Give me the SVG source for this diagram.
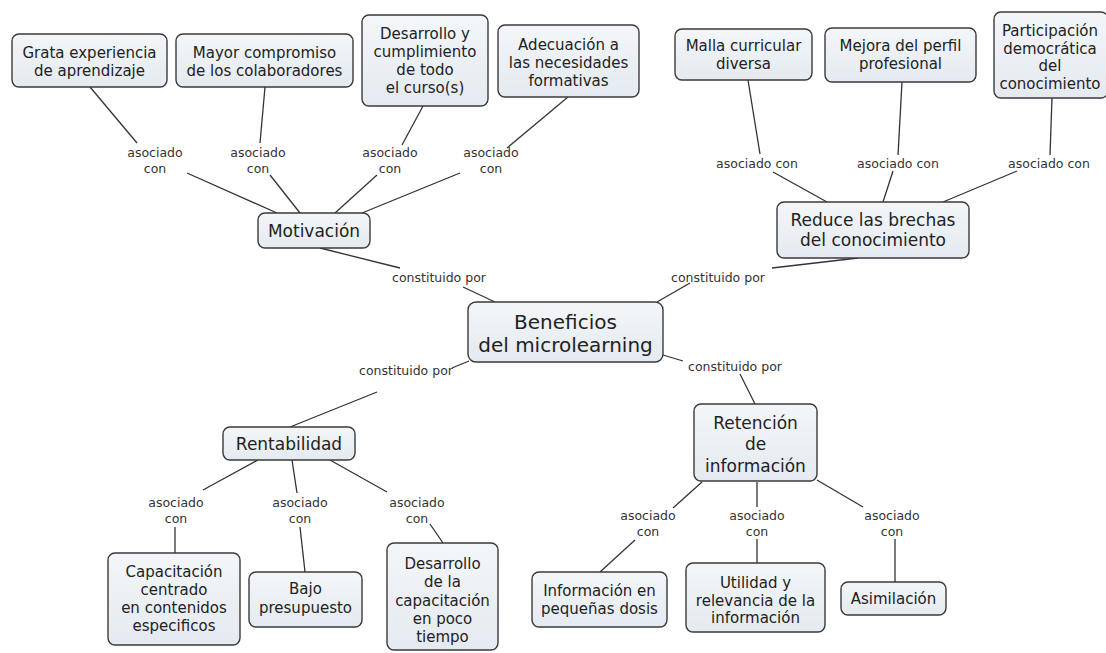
<svg xmlns="http://www.w3.org/2000/svg" width="1106" height="653" viewBox="0 0 1106 653">
<defs>
<linearGradient id="nodeFill" x1="0" y1="0" x2="0" y2="1">
<stop offset="0" stop-color="#f3f6f9"/>
<stop offset="1" stop-color="#e4eaf0"/>
</linearGradient>
</defs>
<style>
.box{fill:url(#nodeFill);stroke:#3a3a3a;stroke-width:1.4}
.t{font-family:"DejaVu Sans",Verdana,sans-serif;fill:#222;text-anchor:middle}
.leaf{font-size:15px}
.mid{font-size:17px}
.root{font-size:20px}
.lbl{font-family:"DejaVu Sans",Verdana,sans-serif;font-size:12.5px;fill:#333;text-anchor:middle}
.c{stroke:#333;stroke-width:1.3;fill:none}
</style>
<rect width="1106" height="653" fill="#ffffff"/>

<g id="connectors">
<line class="c" x1="90" y1="87" x2="137" y2="143"/>
<line class="c" x1="187" y1="173" x2="277" y2="213"/>
<line class="c" x1="265" y1="87" x2="260" y2="143"/>
<line class="c" x1="270" y1="175" x2="300" y2="213"/>
<line class="c" x1="423" y1="106" x2="402" y2="145"/>
<line class="c" x1="377" y1="175" x2="335" y2="213"/>
<line class="c" x1="568" y1="97" x2="507" y2="148"/>
<line class="c" x1="460" y1="173" x2="362" y2="213"/>
<line class="c" x1="748" y1="80" x2="760" y2="154"/>
<line class="c" x1="773" y1="172" x2="827" y2="202"/>
<line class="c" x1="902" y1="82" x2="898" y2="155"/>
<line class="c" x1="893" y1="171" x2="883" y2="202"/>
<line class="c" x1="1052" y1="98" x2="1050" y2="155"/>
<line class="c" x1="1017" y1="171" x2="943" y2="202"/>
<line class="c" x1="320" y1="248" x2="400" y2="268"/>
<line class="c" x1="463" y1="287" x2="495" y2="302"/>
<line class="c" x1="858" y1="258" x2="772" y2="268"/>
<line class="c" x1="690" y1="283" x2="657" y2="302"/>
<line class="c" x1="469" y1="361" x2="452" y2="368"/>
<line class="c" x1="377" y1="392" x2="290" y2="427"/>
<line class="c" x1="663" y1="355" x2="683" y2="361"/>
<line class="c" x1="740" y1="374" x2="755" y2="404"/>
<line class="c" x1="258" y1="460" x2="203" y2="490"/>
<line class="c" x1="175" y1="527" x2="175" y2="553"/>
<line class="c" x1="292" y1="460" x2="297" y2="493"/>
<line class="c" x1="300" y1="527" x2="305" y2="572"/>
<line class="c" x1="330" y1="460" x2="387" y2="492"/>
<line class="c" x1="430" y1="524" x2="443" y2="543"/>
<line class="c" x1="702" y1="482" x2="673" y2="508"/>
<line class="c" x1="635" y1="540" x2="600" y2="572"/>
<line class="c" x1="757" y1="482" x2="757" y2="507"/>
<line class="c" x1="757" y1="539" x2="757" y2="563"/>
<line class="c" x1="817" y1="480" x2="863" y2="507"/>
<line class="c" x1="895" y1="539" x2="895" y2="582"/>

<text class="lbl" x="155" y="156.5">asociado</text><text class="lbl" x="155" y="172.5">con</text>
<text class="lbl" x="258" y="156.5">asociado</text><text class="lbl" x="258" y="172.5">con</text>
<text class="lbl" x="390" y="156.5">asociado</text><text class="lbl" x="390" y="172.5">con</text>
<text class="lbl" x="491" y="156.5">asociado</text><text class="lbl" x="491" y="172.5">con</text>
<text class="lbl" x="757" y="167.5">asociado con</text>
<text class="lbl" x="898" y="167.5">asociado con</text>
<text class="lbl" x="1049" y="167.5">asociado con</text>
<text class="lbl" x="439" y="281.5">constituido por</text>
<text class="lbl" x="718" y="281.5">constituido por</text>
<text class="lbl" x="406" y="374.5">constituido por</text>
<text class="lbl" x="735" y="370.5">constituido por</text>
<text class="lbl" x="176" y="506.5">asociado</text><text class="lbl" x="176" y="522.5">con</text>
<text class="lbl" x="300" y="506.5">asociado</text><text class="lbl" x="300" y="522.5">con</text>
<text class="lbl" x="417" y="506.5">asociado</text><text class="lbl" x="417" y="522.5">con</text>
<text class="lbl" x="648" y="519.5">asociado</text><text class="lbl" x="648" y="536">con</text>
<text class="lbl" x="757" y="519.5">asociado</text><text class="lbl" x="757" y="536">con</text>
<text class="lbl" x="892" y="519.5">asociado</text><text class="lbl" x="892" y="536">con</text>
</g>

<g id="grata">
<rect class="box" x="12" y="34" width="155" height="53" rx="7"/>
<text class="t leaf" x="89.5" y="57.5">Grata experiencia</text>
<text class="t leaf" x="89.5" y="75.5">de aprendizaje</text>
</g>
<g id="mayor">
<rect class="box" x="176" y="34" width="177" height="53" rx="7"/>
<text class="t leaf" x="264.5" y="57.5">Mayor compromiso</text>
<text class="t leaf" x="264.5" y="75.5">de los colaboradores</text>
</g>
<g id="desarrollo-curso">
<rect class="box" x="362" y="15" width="126" height="91" rx="7"/>
<text class="t leaf" x="425" y="38.8">Desarrollo y</text>
<text class="t leaf" x="425" y="56.8">cumplimiento</text>
<text class="t leaf" x="425" y="74.8">de todo</text>
<text class="t leaf" x="425" y="92.8">el curso(s)</text>
</g>
<g id="adecuacion">
<rect class="box" x="498" y="25" width="141" height="72" rx="7"/>
<text class="t leaf" x="568.5" y="49.8">Adecuación a</text>
<text class="t leaf" x="568.5" y="67.8">las necesidades</text>
<text class="t leaf" x="568.5" y="85.8">formativas</text>
</g>
<g id="malla">
<rect class="box" x="675" y="29" width="137" height="51" rx="7"/>
<text class="t leaf" x="743.5" y="50.8">Malla curricular</text>
<text class="t leaf" x="743.5" y="68.8">diversa</text>
</g>
<g id="mejora">
<rect class="box" x="825" y="28" width="151" height="54" rx="7"/>
<text class="t leaf" x="900.5" y="51.3">Mejora del perfil</text>
<text class="t leaf" x="900.5" y="69.3">profesional</text>
</g>
<g id="participacion">
<rect class="box" x="994" y="12" width="114" height="86" rx="7"/>
<text class="t leaf" x="1050" y="36.3">Participación</text>
<text class="t leaf" x="1050" y="53.8">democrática</text>
<text class="t leaf" x="1050" y="71.3">del</text>
<text class="t leaf" x="1050" y="88.8">conocimiento</text>
</g>
<g id="motivacion">
<rect class="box" x="258" y="213" width="112" height="35" rx="7"/>
<text class="t mid" x="314" y="236.5">Motivación</text>
</g>
<g id="reduce">
<rect class="box" x="777" y="202" width="192" height="56" rx="7"/>
<text class="t mid" x="873" y="226">Reduce las brechas</text>
<text class="t mid" x="873" y="246">del conocimiento</text>
</g>
<g id="beneficios">
<rect class="box" x="468" y="302" width="195" height="60" rx="8"/>
<text class="t root" x="565.5" y="329">Beneficios</text>
<text class="t root" x="565.5" y="352">del microlearning</text>
</g>
<g id="rentabilidad">
<rect class="box" x="223" y="427" width="132" height="33" rx="7"/>
<text class="t mid" x="289" y="449.5">Rentabilidad</text>
</g>
<g id="retencion">
<rect class="box" x="694" y="404" width="123" height="77" rx="7"/>
<text class="t mid" x="755.5" y="429">Retención</text>
<text class="t mid" x="755.5" y="450">de</text>
<text class="t mid" x="755.5" y="472">información</text>
</g>
<g id="capacitacion">
<rect class="box" x="108" y="553" width="132" height="92" rx="7"/>
<text class="t leaf" x="174" y="577">Capacitación</text>
<text class="t leaf" x="174" y="595">centrado</text>
<text class="t leaf" x="174" y="613">en contenidos</text>
<text class="t leaf" x="174" y="630.5">especificos</text>
</g>
<g id="bajo">
<rect class="box" x="249" y="572" width="113" height="55" rx="7"/>
<text class="t leaf" x="305.5" y="593.5">Bajo</text>
<text class="t leaf" x="305.5" y="613">presupuesto</text>
</g>
<g id="desarrollo-capacitacion">
<rect class="box" x="387" y="543" width="111" height="107" rx="7"/>
<text class="t leaf" x="442.5" y="568.5">Desarrollo</text>
<text class="t leaf" x="442.5" y="587">de la</text>
<text class="t leaf" x="442.5" y="605.5">capacitación</text>
<text class="t leaf" x="442.5" y="623.5">en poco</text>
<text class="t leaf" x="442.5" y="642">tiempo</text>
</g>
<g id="informacion">
<rect class="box" x="532" y="572" width="135" height="55" rx="7"/>
<text class="t leaf" x="599.5" y="595.5">Información en</text>
<text class="t leaf" x="599.5" y="613.5">pequeñas dosis</text>
</g>
<g id="utilidad">
<rect class="box" x="686" y="563" width="139" height="69" rx="7"/>
<text class="t leaf" x="755.5" y="587.5">Utilidad y</text>
<text class="t leaf" x="755.5" y="605.5">relevancia de la</text>
<text class="t leaf" x="755.5" y="622.5">información</text>
</g>
<g id="asimilacion">
<rect class="box" x="841" y="582" width="105" height="33" rx="7"/>
<text class="t leaf" x="893.5" y="604">Asimilación</text>
</g>
</svg>
